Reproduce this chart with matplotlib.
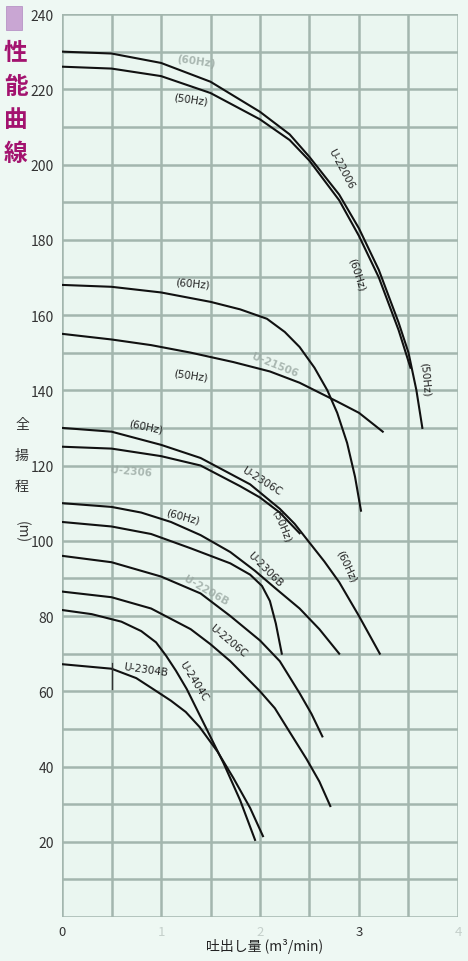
import matplotlib.pyplot as plt
import numpy as np

plt.rcParams['font.family'] = ['Noto Sans CJK JP', 'DejaVu Sans']

# 各曲線の (吐出し量, 全揚程) 読み取り値
a60_q = [0, 0.5, 1.0, 1.5, 2.0, 2.3, 2.5, 2.8, 3.0, 3.2, 3.4, 3.5, 3.58, 3.64]
a60_h = [230, 229.5, 227, 222, 214, 208, 202, 192, 183, 172, 158, 150, 140, 130]
a50_q = [0, 0.5, 1.0, 1.5, 2.0, 2.3, 2.5, 2.8, 3.0, 3.2, 3.4, 3.52]
a50_h = [226, 225.5, 223.5, 219, 212, 206.5, 201, 190.5, 181, 170, 156, 146]

b60_q = [0, 0.5, 1.0, 1.5, 1.8, 2.07, 2.25, 2.4, 2.55, 2.68, 2.78, 2.88, 2.96, 3.02]
b60_h = [168, 167.5, 166, 163.5, 161.5, 159, 155.5, 151.5, 146, 140, 134, 126, 117, 108]
b50_q = [0, 0.5, 0.9, 1.3, 1.73, 2.1, 2.4, 2.78, 3.0, 3.24]
b50_h = [155, 153.5, 152, 150, 147.5, 145, 142, 137, 134, 129]

c60_q = [0, 0.5, 1.0, 1.4, 1.9, 2.2, 2.35, 2.5, 2.65, 2.8, 3.0, 3.21]
c60_h = [130, 129, 125.5, 122, 115, 108.5, 104.5, 99.5, 94.5, 89, 80, 70]
c50_q = [0, 0.5, 1.0, 1.4, 1.8, 2.0, 2.2, 2.4]
c50_h = [125, 124.5, 122.5, 120, 114.5, 111.5, 107.5, 102]

d60_q = [0, 0.5, 0.8, 1.1, 1.4, 1.7, 1.95, 2.15, 2.4, 2.6, 2.8]
d60_h = [110, 109, 107.5, 105, 101.5, 97, 92, 87.5, 82, 76.5, 70]
d50_q = [0, 0.5, 0.9, 1.3, 1.7, 1.9, 2.02, 2.1, 2.16, 2.22]
d50_h = [105, 103.8, 101.8, 98, 94, 91, 88, 84, 78, 70]

e1_q = [0, 0.5, 1.0, 1.4, 1.7, 2.0, 2.2, 2.4, 2.52, 2.63]
e1_h = [96, 94.3, 90.5, 86, 80, 73.5, 68, 59.5, 54, 48]
e2_q = [0, 0.5, 0.9, 1.3, 1.5, 1.7, 2.0, 2.15, 2.28, 2.47, 2.6, 2.71]
e2_h = [86.5, 85, 82, 76.5, 72.5, 68, 60, 55.5, 50, 42, 36, 29.5]

f1_q = [0, 0.3, 0.6, 0.8, 0.95, 1.05, 1.15, 1.26, 1.46, 1.63, 1.8, 1.95]
f1_h = [81.6, 80.5, 78.5, 76, 73, 69.5, 65.5, 60.6, 50, 41, 31, 20.5]
f2_q = [0, 0.5, 0.75, 0.92, 1.1, 1.25, 1.39, 1.57, 1.73, 1.9, 2.03]
f2_h = [67.2, 66, 63.5, 60.6, 57.5, 54.5, 50.5, 44, 37, 29, 21.5]

curves = [(a60_q, a60_h), (a50_q, a50_h), (b60_q, b60_h), (b50_q, b50_h),
          (c60_q, c60_h), (c50_q, c50_h), (d60_q, d60_h), (d50_q, d50_h),
          (e1_q, e1_h), (e2_q, e2_h), (f1_q, f1_h), (f2_q, f2_h)]

# 2304B の短い縦線
mark_q = [0.5, 0.5]
mark_h = [60.5, 67.5]

# 曲線上の文字 (x, y, 文字, 角度)
labels = [
    (1.30, 217.5, '(50Hz)', -8),
    (2.82, 199.0, 'U-22006', -62),
    (2.98, 171.0, '(60Hz)', -72),
    (3.67, 143.0, '(50Hz)', -85),
    (1.32, 168.5, '(60Hz)', -5),
    (1.30, 144.0, '(50Hz)', -8),
    (0.85, 130.5, '(60Hz)', -12),
    (2.02, 116.0, 'U-2306C', -32),
    (2.22, 104.0, '(50Hz)', -68),
    (2.87, 93.5, '(60Hz)', -65),
    (1.22, 106.5, '(60Hz)', -15),
    (2.05, 92.5, 'U-2306B', -45),
    (1.68, 73.5, 'U-2206C', -40),
    (0.85, 66.0, 'U-2304B', -8),
    (1.33, 63.0, 'U-2404C', -58),
]
# かすれた型式表示
faded = [
    (1.35, 227.5, '(60Hz)', -8),
    (2.15, 147.0, 'U-21506', -22),
    (0.70, 118.5, 'U-2306', -5),
    (1.45, 87.0, 'U-2206B', -30),
]

x_ticks = [0, 1, 2, 3, 4]
x_tick_labels = ['0', '1', '2', '3', '4']
y_labels = [20, 40, 60, 80, 100, 120, 140, 160, 180, 200, 220, 240]

bg = '#eef8f3'
grid_c = '#a3b6ae'

fig = plt.figure(figsize=(4.68, 9.62), dpi=100, facecolor=bg)
ax = fig.add_axes([0.1325, 0.0457, 0.8461, 0.9387], facecolor='#eaf6f0')
ax.set_xlim(0, 4)
ax.set_ylim(0, 240)

for xv in np.arange(0, 4.01, 0.5):
    ax.axvline(xv, color=grid_c, lw=1.8, zorder=1)
for yv in np.arange(0, 241, 10):
    ax.axhline(yv, color=grid_c, lw=1.8, zorder=1)

for q, h in curves:
    ax.plot(q, h, color='#111111', lw=1.5, zorder=3)
ax.plot(mark_q, mark_h, color='#333333', lw=0.9, zorder=3)

for x, y, s, r in labels:
    ax.text(x, y, s, rotation=r, fontsize=7.5, ha='center', va='center',
            color='#222222', family=['DejaVu Sans'], zorder=4)
for x, y, s, r in faded:
    ax.text(x, y, s, rotation=r, fontsize=7.5, ha='center', va='center',
            color='#9aa8a2', alpha=0.8, family=['DejaVu Sans'], fontweight='bold', zorder=4)

for sp in ax.spines.values():
    sp.set_visible(False)
ax.tick_params(length=0, pad=6)
ax.set_xticks(x_ticks)
ax.set_xticklabels(x_tick_labels, fontsize=9.5)
for t, lab in zip(ax.get_xticklabels(), x_tick_labels):
    t.set_color('#333333' if lab in ('0', '3') else '#c5d0cb')
ax.set_yticks(y_labels)
ax.set_yticklabels([str(v) for v in y_labels], fontsize=10, color='#333333')

# タイトル（縦書き）
fig.patches.append(plt.Rectangle((0.012, 0.968), 0.036, 0.025, transform=fig.transFigure,
                                 facecolor='#c9a6d3', edgecolor='#b089c0', lw=0.5))
for i, ch in enumerate('性能曲線'):
    fig.text(0.034, 0.945 - i * 0.035, ch, fontsize=17, fontweight='bold',
             color='#a3136f', ha='center', va='center')

# 縦軸ラベル
for i, ch in enumerate('全揚程'):
    fig.text(0.047, 0.558 - i * 0.032, ch, fontsize=10, color='#333333',
             ha='center', va='center')
fig.text(0.047, 0.447, '(m)', fontsize=10, color='#333333', rotation=-90,
         ha='center', va='center')

fig.text(0.565, 0.016, '吐出し量 (m³/min)', fontsize=10, color='#222222',
         ha='center', va='center')

plt.savefig('out.png', dpi=100, facecolor=bg)
